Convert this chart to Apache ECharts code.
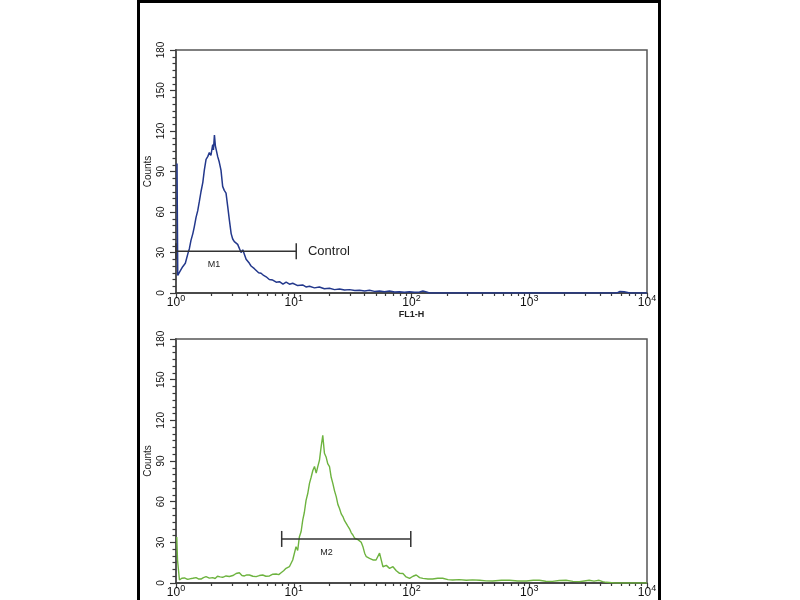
<!DOCTYPE html>
<html>
<head>
<meta charset="utf-8">
<script src="https://cdn.jsdelivr.net/npm/echarts@6/dist/echarts.min.js"></script>
<style>
html,body{margin:0;padding:0;background:#fff;}
#chart{width:800px;height:600px;}
</style>
</head>
<body>
<div id="chart"></div>
<script>
// ---------- data ----------
var controlX = [1.02, 1.035, 1.08, 1.14, 1.20, 1.26, 1.30, 1.34, 1.39, 1.43, 1.48, 1.53, 1.58, 1.63, 1.69, 1.74, 1.80, 1.86, 1.92, 1.98, 2.05, 2.08, 2.12, 2.16, 2.19, 2.26, 2.33, 2.41, 2.49, 2.57, 2.66, 2.75, 2.84, 2.94, 3.03, 3.13, 3.24, 3.34, 3.45, 3.57, 3.69, 3.81, 3.94, 4.07, 4.20, 4.34, 4.48, 4.63, 4.79, 5.03, 5.28, 5.55, 5.83, 6.2, 6.63, 7.1, 7.56, 8.1, 8.62, 9.2, 9.8, 10.8, 11.9, 12.7, 13.6, 15, 16.5, 18.2, 20.1, 22.2, 24.5, 27, 29.8, 33, 36.2, 40, 44, 48.5, 53.5, 59, 65, 72, 79, 87, 96, 106, 117, 125, 134, 142, 5330, 5500, 5660, 5900, 6120, 6400, 6620, 7150, 10000];
var controlCounts = [96, 13, 16, 19.5, 22, 29, 33, 39, 44, 49, 56, 61, 68, 75, 82, 91, 99, 101, 104, 102, 110, 106, 117, 109, 108, 101, 97, 91, 79, 76, 74, 64, 54, 44, 40, 38, 39, 36, 37, 30, 32, 31, 25, 24, 22, 20, 19.5, 18, 17, 15, 14.6, 13, 12, 10, 9.6, 8, 8.4, 6.5, 8, 6.5, 7.2, 5.5, 6, 4.5, 5, 3.8, 4.5, 3.2, 3.5, 2.5, 3, 2.2, 2.5, 1.8, 2, 1.5, 2, 1.2, 1.5, 1, 1.4, 0.8, 1, 0.6, 1, 0.5, 0.8, 1.5, 0.8, 0, 0, 1.2, 0.4, 1.2, 0.3, 1, 0.5, 0, 0];

var antibodyX = [1.015, 1.03, 1.07, 1.12, 1.18, 1.24, 1.3, 1.39, 1.48, 1.55, 1.63, 1.71, 1.8, 1.92, 2.05, 2.15, 2.25, 2.37, 2.49, 2.66, 2.84, 3.04, 3.24, 3.45, 3.63, 3.81, 4.0, 4.2, 4.5, 4.79, 5.1, 5.45, 5.8, 6.22, 6.65, 7.08, 7.45, 7.81, 8.2, 8.6, 9.18, 9.8, 10.1, 10.46, 10.8, 11.16, 11.55, 11.93, 12.3, 12.72, 13.15, 13.6, 14.05, 14.52, 15.0, 15.51, 16.02, 16.54, 17.09, 17.64, 18.22, 18.82, 19.43, 20.12, 20.8, 21.47, 22.2, 22.95, 23.7, 24.47, 25.3, 26.14, 27.0, 27.93, 28.8, 29.76, 30.8, 31.79, 32.9, 33.96, 35.1, 36.21, 37.4, 38.68, 40, 41.33, 42.7, 44.03, 47, 50, 53.55, 57.2, 61.1, 65.14, 69.6, 74.3, 79.2, 84.6, 90, 96.3, 103, 109.7, 117.2, 125, 138, 151, 167, 184, 204, 224, 255, 292, 330, 380, 430, 489, 580, 680, 800, 946, 1080, 1218, 1380, 1574, 1800, 2049, 2350, 2664, 2930, 3230, 3550, 3921, 4200, 4490, 5333, 10000];
var antibodyCounts = [34, 17, 2.2, 3.5, 3.7, 2.8, 3, 3.5, 4, 3, 2.9, 4, 4.7, 3.6, 4, 3.3, 5, 4.5, 4.2, 5.2, 4.8, 5.5, 7, 7.6, 5.5, 5.2, 6, 5.9, 5, 4.7, 5.5, 5.9, 5, 5.2, 6.5, 6.6, 6.2, 7.6, 9, 10.8, 12, 17, 16, 26.8, 24, 34, 38, 46.5, 52, 61, 66, 73.5, 78, 83, 86, 81, 86, 90.7, 100.6, 109, 95.7, 93, 88, 85.8, 78, 73.5, 68, 63.7, 58, 55, 51, 49, 46, 45, 42, 40, 37, 35.4, 33, 34, 32, 33, 30, 26.8, 22, 19.4, 20, 18.2, 17, 17, 22, 12, 13, 10.8, 12, 9, 7.1, 7, 4.5, 3.4, 5, 5.9, 4, 3.4, 3, 3, 3.5, 3.5, 2.5, 2.2, 2.5, 2, 2.3, 2, 1.6, 1.5, 2, 2, 1.5, 1.5, 2, 2, 1.3, 1.2, 1.8, 2, 1.2, 1, 1.5, 2, 1.4, 2, 1, 0.5, 0, 0];

// gates: [start, end] on FL1-H, at a count level
var gateM1 = {name: 'M1', from: 1.0, to: 10.5, level: 31, labelAt: 2.1};
var gateM2 = {name: 'M2', from: 7.9, to: 98.6, level: 32.5, labelAt: 19};
var controlLabel = {text: 'Control', at: 13.2};

var xTickExponents = ['0', '1', '2', '3', '4'];
var minorTickValues = [];
[1, 10, 100, 1000].forEach(function (d) {
  for (var k = 2; k <= 9; k++) minorTickValues.push(k * d);
});

function pairs(xs, ys) {
  return xs.map(function (x, i) { return [x, ys[i]]; });
}

var FONT = "'Liberation Sans Narrow', 'Liberation Sans', Arial, sans-serif";
var AXIS_COLOR = '#3a3a3a';

function mainXAxis(gridIndex, name) {
  return {
    type: 'log', logBase: 10, min: 1, max: 10000, gridIndex: gridIndex, position: 'bottom',
    name: name || '', nameLocation: 'middle', nameGap: 17, nameMoveOverlap: false,
    nameTextStyle: {fontFamily: FONT, fontSize: 9, fontWeight: 'bold', color: '#222'},
    axisLine: {show: true, lineStyle: {color: AXIS_COLOR, width: 1.5}},
    axisTick: {show: true, length: 5, lineStyle: {color: AXIS_COLOR, width: 1.2}},
    splitLine: {show: false},
    minorTick: {show: false},
    axisLabel: {
      margin: 1, color: '#111', fontFamily: FONT,
      formatter: function (v) {
        var e = Math.round(Math.log(v) / Math.LN10);
        return '{b|10}{s|' + xTickExponents[e] + '}';
      },
      rich: {
        b: {fontSize: 12, lineHeight: 18, fontFamily: FONT, color: '#111'},
        s: {fontSize: 9, lineHeight: 9, verticalAlign: 'top', fontFamily: FONT, color: '#111'}
      }
    }
  };
}
function minorXAxis(gridIndex) {
  return {
    type: 'log', logBase: 10, min: 1, max: 10000, gridIndex: gridIndex, position: 'bottom',
    axisLine: {show: false},
    axisTick: {show: true, length: 3, customValues: minorTickValues, lineStyle: {color: AXIS_COLOR, width: 1.2}},
    axisLabel: {show: false},
    splitLine: {show: false}
  };
}
function yAxis(gridIndex) {
  return {
    type: 'value', min: 0, max: 180, interval: 30, gridIndex: gridIndex,
    name: 'Counts', nameLocation: 'middle', nameGap: 23, nameRotate: 90, nameMoveOverlap: false,
    nameTextStyle: {fontFamily: FONT, fontSize: 10, color: '#222'},
    axisLine: {show: true, lineStyle: {color: '#555', width: 2}},
    axisTick: {show: true, length: 6, lineStyle: {color: AXIS_COLOR, width: 1.2}},
    minorTick: {show: true, splitNumber: 6, length: 3.5, lineStyle: {color: AXIS_COLOR, width: 1.2}},
    splitLine: {show: false},
    axisLabel: {rotate: 90, margin: 10, fontSize: 10, fontFamily: FONT, color: '#111'}
  };
}
function gateSeries(g, xIdx, yIdx, extraLabel) {
  var mp = [{
    coord: [g.labelAt, g.level], symbol: 'circle', symbolSize: 0,
    label: {show: true, formatter: g.name, position: 'bottom', distance: 9,
      fontSize: 9, fontFamily: FONT, color: '#222'}
  }];
  if (extraLabel) {
    mp.push({
      coord: [extraLabel.at, g.level], symbol: 'circle', symbolSize: 0,
      label: {show: true, formatter: extraLabel.text, position: 'right', distance: 0,
        fontSize: 13, fontFamily: "'Liberation Sans', Arial, sans-serif", color: '#222'}
    });
  }
  return {
    type: 'line', xAxisIndex: xIdx, yAxisIndex: yIdx, silent: true,
    data: [[g.from, g.level], [g.to, g.level]],
    symbol: 'rect', symbolSize: [1.5, 16], showSymbol: true,
    itemStyle: {color: '#333'},
    lineStyle: {color: '#333', width: 1.5},
    markPoint: {silent: true, data: mp}
  };
}

var chart = echarts.init(document.getElementById('chart'), null, {renderer: 'canvas'});
chart.setOption({
  animation: false,
  backgroundColor: '#fff',
  grid: [
    {left: 176, right: 153, top: 50, height: 243, show: true, borderColor: '#555', borderWidth: 1.5},
    {left: 176, right: 153, top: 339, height: 244, show: true, borderColor: '#555', borderWidth: 1.5}
  ],
  xAxis: [mainXAxis(0, 'FL1-H'), minorXAxis(0), mainXAxis(1), minorXAxis(1)],
  yAxis: [yAxis(0), yAxis(1)],
  graphic: [{
    type: 'rect', silent: true, z: 100,
    shape: {x: 138.5, y: 1.5, width: 521, height: 640},
    style: {fill: 'none', stroke: '#000', lineWidth: 3}
  }],
  series: [
    {
      type: 'line', name: 'Control', xAxisIndex: 0, yAxisIndex: 0,
      data: pairs(controlX, controlCounts), showSymbol: false, symbol: 'none',
      lineStyle: {color: '#23388c', width: 1.5}
    },
    gateSeries(gateM1, 0, 0, controlLabel),
    {
      type: 'line', name: 'Antibody', xAxisIndex: 2, yAxisIndex: 1,
      data: pairs(antibodyX, antibodyCounts), showSymbol: false, symbol: 'none',
      lineStyle: {color: '#6db33f', width: 1.4}
    },
    gateSeries(gateM2, 2, 1)
  ]
});
</script>
</body>
</html>
